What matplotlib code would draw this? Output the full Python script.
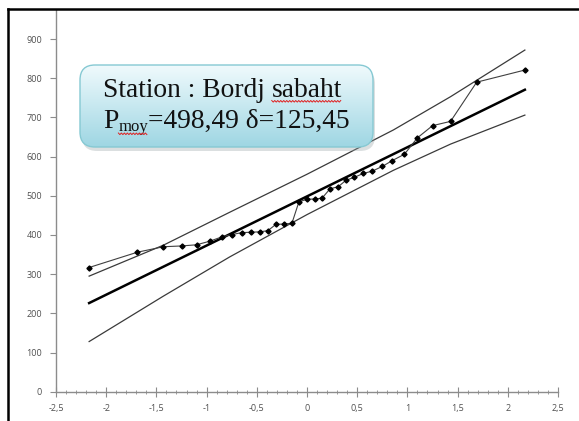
import matplotlib
matplotlib.use('Agg')
import matplotlib.pyplot as plt
import numpy as np
from matplotlib.patches import FancyBboxPatch
from matplotlib.lines import Line2D
from matplotlib.ticker import MultipleLocator, FuncFormatter

# reduced normal variate of each ranked annual rainfall total
z_values = [-2.17, -1.69, -1.43, -1.25, -1.10, -0.97, -0.85, -0.75, -0.65, -0.56,
            -0.47, -0.39, -0.31, -0.23, -0.15, -0.08, 0.00, 0.08, 0.15, 0.23,
            0.31, 0.39, 0.47, 0.56, 0.65, 0.75, 0.85, 0.97, 1.10, 1.25,
            1.43, 1.69, 2.17]
rainfall = [317, 356, 370, 372, 375, 384, 395, 401, 406, 407,
            408, 411, 427, 428, 430, 485, 491, 492, 494, 518,
            523, 540, 547, 557, 563, 575, 590, 606, 648, 679,
            690, 790, 821]

station = "Bordj sabaht"
p_moy = 498.49
delta = 125.45

# confidence limits around the normal law
band_z = [-2.17, -1.43, -0.77, 0.00, 0.86, 1.43, 2.17]
upper_band = [295, 374, 458, 555, 668, 753, 872]
lower_band = [128, 244, 344, 452, 565, 632, 706]

W, H = 579, 421
fig = plt.figure(figsize=(W / 100, H / 100), dpi=100)
fig.patch.set_facecolor('white')

ax = fig.add_axes([56 / W, (H - 391.7) / H, 502 / W, 382 / H])
ax.set_xlim(-2.5, 2.5)
ax.set_ylim(0, 975)

fit_z = [z_values[0], z_values[-1]]
fit = [p_moy + delta * z for z in fit_z]

ax.plot(band_z, upper_band, color='#3a3a3a', lw=0.9)
ax.plot(band_z, lower_band, color='#3a3a3a', lw=0.9)
ax.plot(fit_z, fit, color='black', lw=1.8)
ax.plot(z_values, rainfall, color='#404040', lw=0.8, marker='D',
        markersize=2.6, markerfacecolor='black', markeredgecolor='black')

axis_grey = '#8c8c8c'
for side in ['top', 'right']:
    ax.spines[side].set_visible(False)
for side in ['left', 'bottom']:
    ax.spines[side].set_color(axis_grey)
    ax.spines[side].set_linewidth(1.0)

ax.set_yticks(range(0, 1000, 100))
ax.xaxis.set_major_locator(MultipleLocator(0.5))
ax.xaxis.set_minor_locator(MultipleLocator(0.1))
ax.xaxis.set_major_formatter(FuncFormatter(lambda v, p: f"{v:g}".replace('.', ',')))
ax.tick_params(axis='y', direction='out', length=4, width=0.8, color=axis_grey,
               labelsize=6.5, labelcolor='#505050', pad=6)
ax.tick_params(axis='x', which='major', direction='inout', length=7, width=0.8,
               color=axis_grey, labelsize=6.5, labelcolor='#505050', pad=5)
ax.tick_params(axis='x', which='minor', direction='inout', length=3.5, width=0.6,
               color=axis_grey)
for lab in ax.get_xticklabels() + ax.get_yticklabels():
    lab.set_family('Open Sans')

# outer chart frame
fig.add_artist(Line2D([8 / W, 8 / W], [0, 1 - 9 / H], transform=fig.transFigure,
                      color='black', lw=1.8))
fig.add_artist(Line2D([8 / W, 1], [1 - 9 / H, 1 - 9 / H], transform=fig.transFigure,
                      color='black', lw=1.8))

# annotation box, drawn in pixel coordinates
bax = fig.add_axes([0, 0, 1, 1])
bax.set_xlim(0, W)
bax.set_ylim(H, 0)
bax.axis('off')
bax.patch.set_alpha(0)

bx, by, bw, bh = 80, 65, 293, 82
shadow = FancyBboxPatch((bx + 2, by + 4), bw, bh, boxstyle="round,pad=0,rounding_size=15",
                        facecolor='#9aa6a8', edgecolor='none', alpha=0.35)
bax.add_patch(shadow)
box = FancyBboxPatch((bx, by), bw, bh, boxstyle="round,pad=0,rounding_size=15",
                     facecolor='none', edgecolor='#86c9d3', lw=1.0)
bax.add_patch(box)
top_col = np.array([0.94, 0.98, 0.99])
bot_col = np.array([0.62, 0.84, 0.89])
t = np.linspace(0, 1, 100)[:, None, None]
grad = top_col * (1 - t) + bot_col * t
img = bax.imshow(grad, extent=[bx, bx + bw, by + bh, by], aspect='auto', zorder=1.5)
img.set_clip_path(box)
box.set_zorder(2)

serif = 'Liberation Serif'
fs = 19.8
renderer = fig.canvas.get_renderer()


def put(x, y, s, size=fs):
    txt = bax.text(x, y, s, fontsize=size, family=serif, va='baseline', ha='left',
                   color='#111111', zorder=3)
    bb = txt.get_window_extent(renderer)
    x_end = bax.transData.inverted().transform((bb.x1, bb.y0))[0]
    return txt, x_end


def squiggle(x0, x1, y):
    xs = np.arange(x0, x1 + 0.1, 1.5)
    ys = y + np.where(np.arange(len(xs)) % 2 == 0, 0, 1.6)
    bax.plot(xs, ys, color='#e02020', lw=0.7, zorder=3)


_, xe = put(103, 97, "Station : Bordj ")
_, xs_end = put(xe, 97, station.split()[1])
squiggle(xe, xs_end, 100.5)

_, xe = put(103, 128, "P")
_, xm = put(xe, 131, "moy", size=12)
squiggle(xe, xm, 133)
put(xm, 128, "=498,49 \u03b4=125,45")

fig.savefig('out.png', dpi=100, facecolor='white')
